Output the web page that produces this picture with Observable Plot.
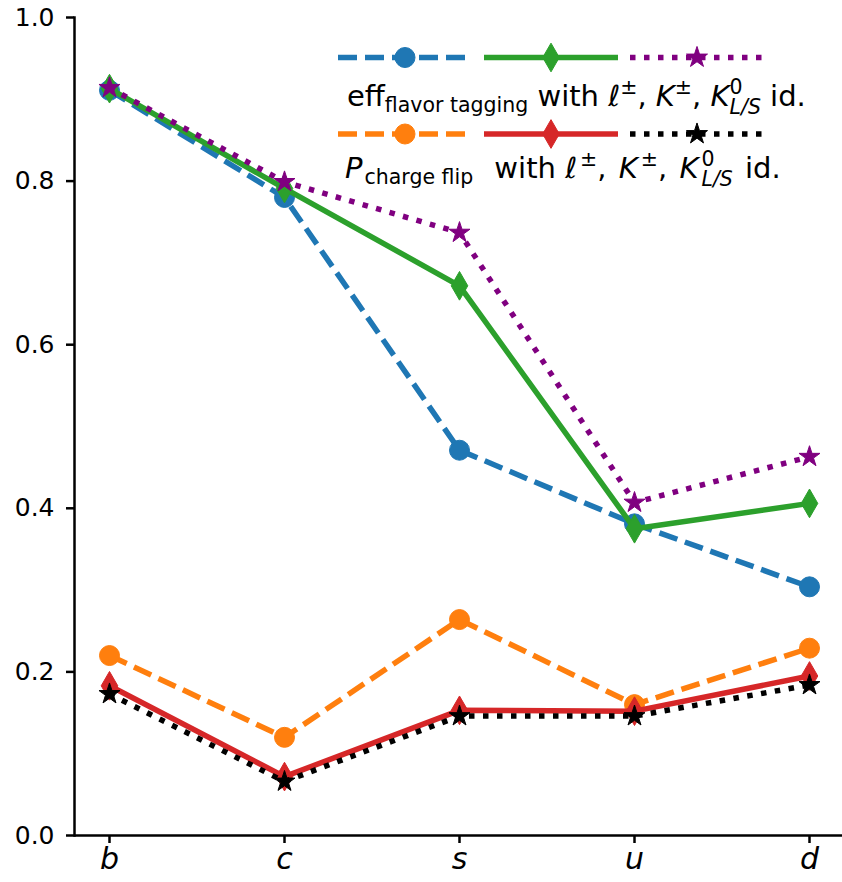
<!DOCTYPE html>
<html>
<head>
<meta charset="utf-8">
<script src="https://cdn.jsdelivr.net/npm/d3@7"></script>
<script src="https://cdn.jsdelivr.net/npm/@observablehq/plot@0.6"></script>
<style>
  html, body { margin: 0; padding: 0; background: white; }
  #chart { width: 842px; height: 882px; overflow: hidden; }
  text { white-space: pre; }
</style>
</head>
<body>
<div id="chart"></div>
<script>
const categories = ["b", "c", "s", "u", "d"];
const yTicks = [0, 0.2, 0.4, 0.6, 0.8, 1.0];

// flavor-tagging efficiency
const effLepton = [0.911, 0.780, 0.471, 0.381, 0.304];
const effKaon   = [0.913, 0.791, 0.672, 0.375, 0.406];
const effK0     = [0.914, 0.799, 0.737, 0.407, 0.463];
// charge-flip probability
const flipLepton = [0.220, 0.120, 0.264, 0.160, 0.229];
const flipKaon   = [0.183, 0.072, 0.153, 0.152, 0.195];
const flipK0     = [0.173, 0.066, 0.146, 0.146, 0.184];

const series = [
  {values: effLepton,  color: "#1f77b4", dash: "19,8",  symbol: "circle",  r: 10},
  {values: effKaon,    color: "#2ca02c", dash: null,    symbol: "diamond", r: 8.7},
  {values: effK0,      color: "#800080", dash: "5.5,8.5", symbol: "star",  r: 6.6},
  {values: flipLepton, color: "#ff7f0e", dash: "19,8",  symbol: "circle",  r: 10},
  {values: flipKaon,   color: "#d62728", dash: null,    symbol: "diamond", r: 8.7},
  {values: flipK0,     color: "#000000", dash: "5.5,8.5", symbol: "star",  r: 6.6}
];
const LW = 5.5;

const seriesMarks = series.flatMap(s => {
  const rows = categories.map((c, i) => ({cat: c, v: s.values[i]}));
  return [
    Plot.line(rows, {x: "cat", y: "v", stroke: s.color, strokeWidth: LW,
      strokeDasharray: s.dash || undefined, strokeLinecap: "butt", strokeLinejoin: "round"}),
    Plot.dot(rows, {x: "cat", y: "v", symbol: s.symbol, r: s.r,
      fill: s.color, stroke: s.color, strokeWidth: 1})
  ];
});

const chart = Plot.plot({
  width: 842,
  height: 882,
  marginLeft: 74,
  marginRight: -2,
  marginTop: 17,
  marginBottom: 47,
  style: {fontFamily: "DejaVu Sans", background: "white", color: "black"},
  x: {type: "point", domain: categories, padding: 0.2, label: null},
  y: {domain: [0, 1], label: null},
  marks: [
    ...seriesMarks,
    Plot.axisY({ticks: yTicks, tickFormat: d3.format(".1f"), tickSize: 8, tickPadding: 12,
      fontSize: 25, strokeWidth: 2.5, label: null}),
    Plot.axisX({tickSize: 8, tickPadding: 4, fontSize: 30, fontStyle: "italic",
      strokeWidth: 2.5, label: null}),
    Plot.frame({anchor: "left", strokeWidth: 2.5}),
    Plot.ruleY([0], {strokeWidth: 2.5})
  ]
});
document.getElementById("chart").appendChild(chart);

// ---- legend (matplotlib-style, two rows of handles + mathtext labels) ----
const svg = d3.select(chart);
const lg = svg.append("g").attr("font-family", "DejaVu Sans").attr("text-anchor", "start");
const symbolTypes = {circle: d3.symbolCircle, diamond: d3.symbolDiamond, star: d3.symbolStar};
const handleRows = [
  {y: 57.5, items: series.slice(0, 3)},
  {y: 134, items: series.slice(3, 6)}
];
const handleStarts = [338, 484, 630];
const handleLen = 134;
handleRows.forEach(row => {
  row.items.forEach((s, i) => {
    const x0 = handleStarts[i];
    lg.append("line")
      .attr("x1", x0).attr("x2", x0 + handleLen)
      .attr("y1", row.y).attr("y2", row.y)
      .attr("stroke", s.color).attr("stroke-width", LW)
      .attr("stroke-dasharray", s.dash || null);
    lg.append("path")
      .attr("transform", `translate(${x0 + handleLen / 2},${row.y})`)
      .attr("d", d3.symbol(symbolTypes[s.symbol], Math.PI * s.r * s.r)())
      .attr("fill", s.color).attr("stroke", s.color).attr("stroke-width", 1);
  });
});

function richText(x, y, parts) {
  const t = lg.append("text").attr("x", x).attr("y", y)
    .attr("font-size", 29).attr("fill", "black").attr("text-anchor", "start");
  let cur = 0;
  for (const p of parts) {
    const shift = p.shift || 0;
    const ts = t.append("tspan").text(p.t).attr("dy", shift - cur);
    cur = shift;
    if (p.size) ts.attr("font-size", p.size);
    if (p.italic) ts.attr("font-style", "italic");
    if (p.dx) ts.attr("dx", p.dx);
  }
}
const SUB = 20.5;
const tail = (gap) => [
  {t: " with ", dx: gap}, {t: "ℓ", italic: true}, {t: "±", size: SUB, shift: -12, dx: gap / 4},
  {t: ", "}, {t: "K", italic: true, dx: gap / 4}, {t: "±", size: SUB, shift: -12, dx: gap / 4},
  {t: ", "}, {t: "K", italic: true, dx: gap / 4}, {t: "0", size: SUB, shift: -12, dx: gap / 4},
  {t: "L/S", size: SUB, italic: true, shift: 8, dx: -13},
  {t: " id.", dx: gap / 4}
];
richText(347, 106, [{t: "eff"}, {t: "flavor tagging", size: SUB, shift: 6}, ...tail(0)]);
richText(345, 178, [{t: "P", italic: true}, {t: "charge flip", size: SUB, shift: 6, dx: 2}, ...tail(12)]);
</script>
</body>
</html>
